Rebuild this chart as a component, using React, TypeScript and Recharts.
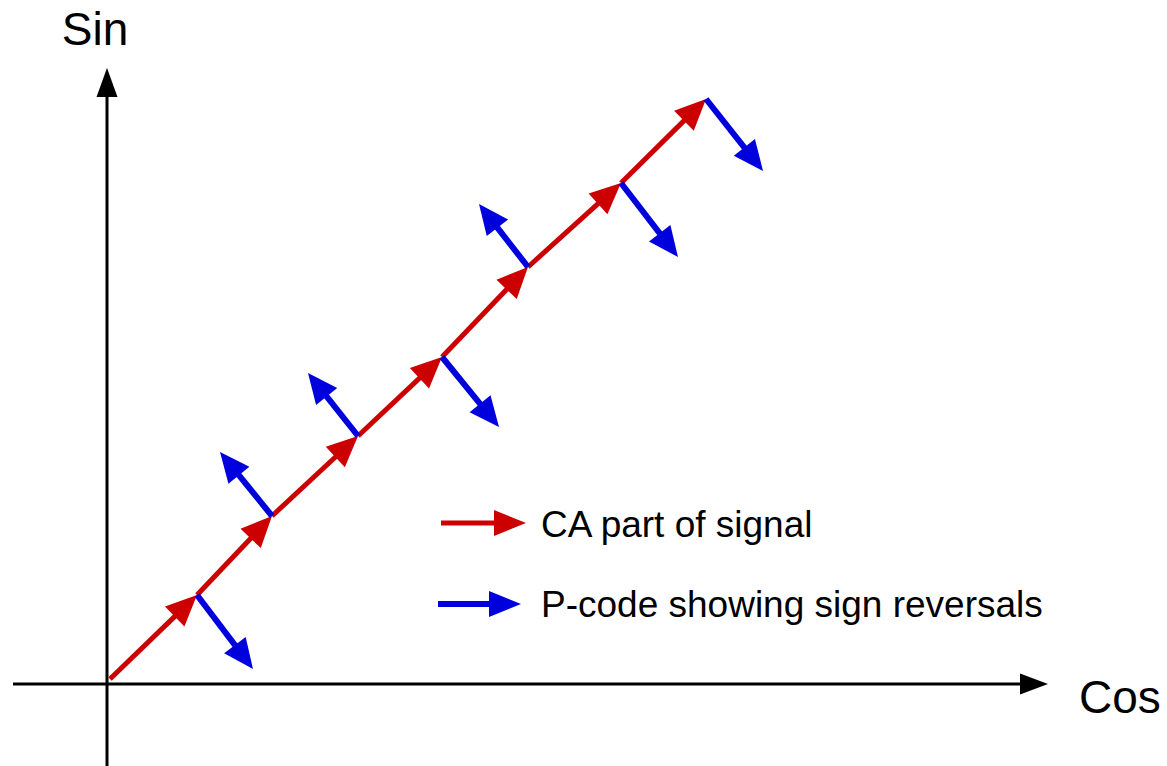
import React from 'react';
import { ComposedChart, XAxis, YAxis, ReferenceLine, Scatter, Legend } from 'recharts';

const RED = '#cc0000';
const BLUE = '#0000dd';
const FONT = '"Liberation Sans", Arial, Helvetica, sans-serif';

// junction points along the CA (red) vector chain
const junctionX = [0.3, 9.0, 16.5, 25.1, 33.5, 42.1, 51.4, 59.9];
const junctionY = [0.5, 8.9, 16.8, 24.8, 32.7, 41.7, 50.1, 58.5];
// tips of the P-code (blue) arrows starting at junctions 1..7
const pTipX = [14.6, 11.3, 20.1, 39.2, 37.2, 57.1, 65.6];
const pTipY = [1.5, 23.2, 31.1, 25.7, 48.0, 42.7, 51.3];

const xAxisLabel = 'Cos';
const yAxisLabel = 'Sin';
const legendLabels = ['CA part of signal', 'P-code showing sign reversals'];
const legendColors = [RED, BLUE];

const xDomain = [-10.7, 106.0];
const yDomain = [-8.2, 68.4];
const xAxisExtent = [-9.4, 94.1];
const yAxisExtent = [-8.4, 61.6];

const junctions = junctionX.map((x, i) => ({ x, y: junctionY[i] }));

type ArrowOpts = { color: string; width: number; headLen: number; headW: number; label?: string; labelPos?: 'top' | 'right' };

function arrowShape(o: ArrowOpts) {
  return (props: any) => {
    const { x1, y1, x2, y2 } = props;
    const dx = x2 - x1;
    const dy = y2 - y1;
    const len = Math.hypot(dx, dy) || 1;
    const ux = dx / len;
    const uy = dy / len;
    const bx = x2 - ux * o.headLen;
    const by = y2 - uy * o.headLen;
    const px = -uy;
    const py = ux;
    const hw = o.headW / 2;
    const pts = `${x2},${y2} ${bx + px * hw},${by + py * hw} ${bx - px * hw},${by - py * hw}`;
    return (
      <g>
        <line x1={x1} y1={y1} x2={bx + ux * 2} y2={by + uy * 2} stroke={o.color} strokeWidth={o.width} />
        <polygon points={pts} fill={o.color} />
        {o.label && o.labelPos === 'top' ? (
          <text x={x2 - 12} y={y2 - 23} textAnchor="middle" fontFamily={FONT} fontSize={46} fill="#000">{o.label}</text>
        ) : null}
        {o.label && o.labelPos === 'right' ? (
          <text x={x2 + 31} y={y2 + 29} textAnchor="start" fontFamily={FONT} fontSize={46} fill="#000">{o.label}</text>
        ) : null}
      </g>
    );
  };
}

const redShape = arrowShape({ color: RED, width: 5, headLen: 31, headW: 28 });
const blueShape = arrowShape({ color: BLUE, width: 6, headLen: 30, headW: 27 });
const xAxisShape = arrowShape({ color: '#000', width: 3, headLen: 28, headW: 21, label: xAxisLabel, labelPos: 'right' });
const yAxisShape = arrowShape({ color: '#000', width: 3, headLen: 29, headW: 21, label: yAxisLabel, labelPos: 'top' });

function LegendBox() {
  const rows = [
    { y: 33, x1: 11, x2: 96, base: 47 },
    { y: 114, x1: 8, x2: 91, base: 127 },
  ];
  return (
    <svg width={650} height={140} style={{ display: 'block', overflow: 'visible' }}>
      {legendLabels.map((lab, i) => {
        const r = rows[i];
        const c = legendColors[i];
        return (
          <g key={lab}>
            <line x1={r.x1} y1={r.y} x2={r.x2 - 30} y2={r.y} stroke={c} strokeWidth={i === 0 ? 5 : 6} />
            <polygon points={`${r.x2},${r.y} ${r.x2 - 32},${r.y - 13} ${r.x2 - 32},${r.y + 13}`} fill={c} />
            <text x={111} y={r.base} fontFamily={FONT} fontSize={37} fill="#000">{lab}</text>
          </g>
        );
      })}
    </svg>
  );
}

export default function App() {
  return (
    <div style={{ position: 'absolute', left: 0, top: 0, width: 1167, height: 766, background: '#fff' }}>
      <ComposedChart width={1167} height={766} margin={{ top: 0, right: 0, bottom: 0, left: 0 }} data={junctions}>
        <XAxis type="number" dataKey="x" domain={xDomain} hide allowDataOverflow />
        <YAxis type="number" dataKey="y" domain={yDomain} hide allowDataOverflow />
        <ReferenceLine
          segment={[{ x: xAxisExtent[0], y: 0 }, { x: xAxisExtent[1], y: 0 }]}
          shape={xAxisShape}
          ifOverflow="visible"
        />
        <ReferenceLine
          segment={[{ x: 0, y: yAxisExtent[0] }, { x: 0, y: yAxisExtent[1] }]}
          shape={yAxisShape}
          ifOverflow="visible"
        />
        {junctionX.slice(1).map((x, i) => (
          <ReferenceLine
            key={`ca-${i}`}
            segment={[{ x: junctionX[i], y: junctionY[i] }, { x, y: junctionY[i + 1] }]}
            shape={redShape}
            ifOverflow="visible"
          />
        ))}
        {pTipX.map((x, i) => (
          <ReferenceLine
            key={`p-${i}`}
            segment={[{ x: junctionX[i + 1], y: junctionY[i + 1] }, { x, y: pTipY[i] }]}
            shape={blueShape}
            ifOverflow="visible"
          />
        ))}
        <Scatter data={junctions} dataKey="y" shape={() => <g />} isAnimationActive={false} legendType="none" />
        <Legend
          layout="vertical"
          align="center"
          verticalAlign="middle"
          content={() => <LegendBox />}
          wrapperStyle={{ position: 'absolute', left: 430, top: 490, right: 'auto', bottom: 'auto', width: 650, height: 140 }}
        />
      </ComposedChart>
    </div>
  );
}
